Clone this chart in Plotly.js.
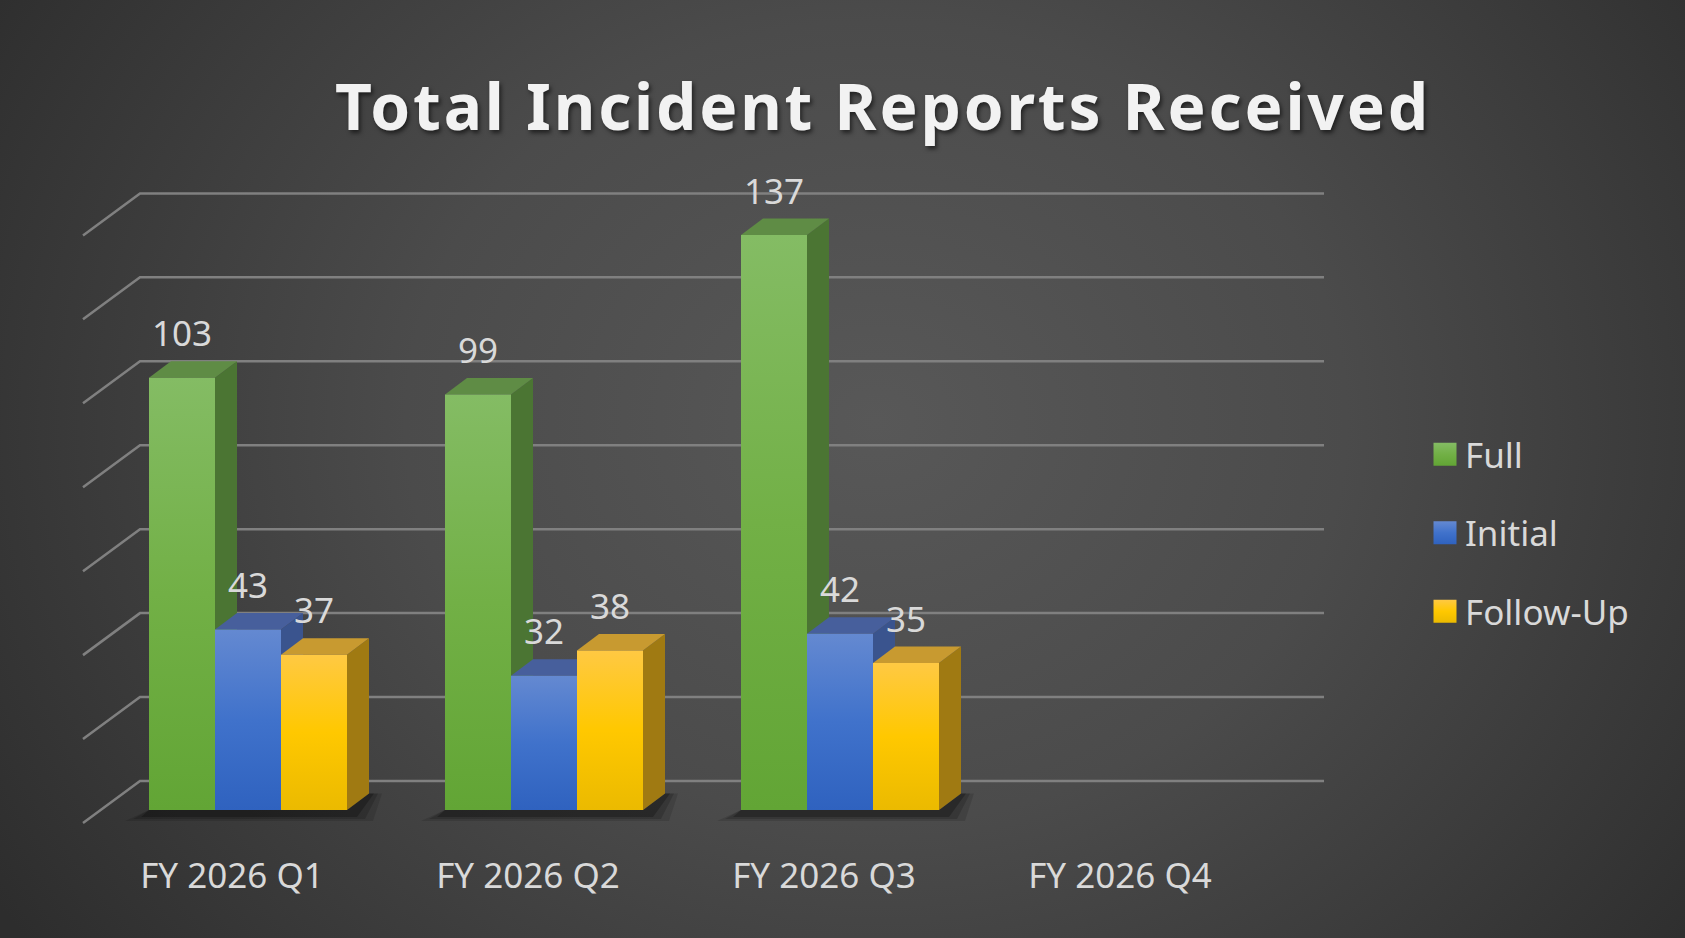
<!DOCTYPE html>
<html>
<head>
<meta charset="utf-8">
<script src="https://cdn.plot.ly/plotly-3.0.1.min.js"></script>
<style>
html, body { margin: 0; padding: 0; }
body {
    width: 1685px; height: 938px; overflow: hidden;
    background: radial-gradient(ellipse 62% 95% at 52% 45%, #585858 0%, #4b4b4b 45%, #2d2d2d 100%);
}
#plot { width: 1685px; height: 938px; }
#defs { position: absolute; width: 0; height: 0; }
.gtitle { letter-spacing: 2.8px; }
/* bigger legend squares, like the reference */
#plot .legend .legendpoints path { d: path('M11.5,11.5H-11.5V-11.5H11.5Z'); }
/* vertical shading of the bar fronts */
#plot .barlayer .trace:nth-child(1) .point path { fill: url(#gFull) !important; }
#plot .barlayer .trace:nth-child(2) .point path { fill: url(#gInitial) !important; }
#plot .barlayer .trace:nth-child(3) .point path { fill: url(#gFollow) !important; }
#plot .legend .groups:nth-child(1) .legendpoints path { fill: url(#gFull) !important; }
#plot .legend .groups:nth-child(2) .legendpoints path { fill: url(#gInitial) !important; }
#plot .legend .groups:nth-child(3) .legendpoints path { fill: url(#gFollow) !important; }
</style>
</head>
<body>
<svg id="defs">
  <defs>
    <linearGradient id="gFull" x1="0" y1="0" x2="0" y2="1">
      <stop offset="0" stop-color="#84bc64"/><stop offset="0.5" stop-color="#72b046"/><stop offset="1" stop-color="#62a535"/>
    </linearGradient>
    <linearGradient id="gInitial" x1="0" y1="0" x2="0" y2="1">
      <stop offset="0" stop-color="#6489d1"/><stop offset="0.5" stop-color="#4072cb"/><stop offset="1" stop-color="#2f62bf"/>
    </linearGradient>
    <linearGradient id="gFollow" x1="0" y1="0" x2="0" y2="1">
      <stop offset="0" stop-color="#ffc943"/><stop offset="0.5" stop-color="#ffc800"/><stop offset="1" stop-color="#ebba00"/>
    </linearGradient>
  </defs>
</svg>
<div id="plot"></div>
<script type="text/javascript">
var categories = ['FY 2026 Q1', 'FY 2026 Q2', 'FY 2026 Q3', 'FY 2026 Q4'];
var seriesNames = ['Full', 'Initial', 'Follow-Up'];
var full = [103, 99, 137, null];
var initial = [43, 32, 42, null];
var followUp = [37, 38, 35, null];
var gridValues = [0, 20, 40, 60, 80, 100, 120, 140];

var series = [full, initial, followUp];
var frontColors = ['#72ae48', '#4472c4', '#fdc010'];
var topColors = ['#5f8c45', '#475f9c', '#c89a30'];
var sideColors = ['#4b7533', '#3a548e', '#a07a12'];
var FONT = '"Noto Sans", "Open Sans", sans-serif';

// page geometry, px
var W = 1685, H = 938;
var M = {l: 70, r: 345, t: 150, b: 108};
var X0_PX = 248, X_UNIT = 296;    // centre of first category, px per category
var Y0_PX = 810, Y_UNIT = 4.197;  // value 0 on the bar front plane, px per unit
var BAR_PX = 66;
var DEPTH = {dx: 22, dy: 16.5};   // bar depth
var BACK = {dx: 40, dy: 29};      // back wall, relative to bar fronts
var FRONT = {dx: -17, dy: -13};   // front edge of the floor

var xMin = -(X0_PX - M.l) / X_UNIT;
var xMax = xMin + (W - M.l - M.r) / X_UNIT;
var yMin = -(H - M.b - Y0_PX) / Y_UNIT;
var yMax = yMin + (H - M.t - M.b) / Y_UNIT;
function dx(px) { return px / X_UNIT; }
function dy(px) { return px / Y_UNIT; }

var barW = BAR_PX / X_UNIT;
var xs = categories.map(function(c, i) { return i; });

function path(pts) {
    return pts.map(function(p, k) { return (k ? 'L' : 'M') + p[0] + ',' + p[1]; }).join('');
}

var shapes = [];

// back wall grid lines with the left wall diagonals
var wallL = -0.5 + dx(BACK.dx), wallR = categories.length - 0.5 + dx(BACK.dx);
gridValues.forEach(function(v) {
    var yb = v + dy(BACK.dy);
    shapes.push({
        type: 'path', layer: 'below', xref: 'x', yref: 'y',
        path: path([[-0.5 + dx(FRONT.dx), v + dy(FRONT.dy)], [wallL, yb], [wallR, yb]]),
        line: {color: '#808080', width: 2.5}, fillcolor: 'rgba(0,0,0,0)'
    });
});

// soft floor shadows under each cluster
var ex = dx(DEPTH.dx), ey = dy(DEPTH.dy);
categories.forEach(function(c, i) {
    var has = series.some(function(s) { return s[i] != null; });
    if (!has) return;
    var L = i - 1.5 * barW, R = i + 1.5 * barW;
    [[24, 26, 11, 0.12], [16, 18, 9, 0.16], [8, 10, 7, 0.24]].forEach(function(s) {
        shapes.push({
            type: 'path', layer: 'below', xref: 'x', yref: 'y',
            path: path([[L - dx(s[0]), -dy(s[2])], [R + dx(s[1]), -dy(s[2])],
                        [R + ex + dx(s[1] * 0.5), ey], [R + ex, ey], [R, 0], [L, 0]]) + 'Z',
            fillcolor: 'rgba(0,0,0,' + s[3] + ')', line: {width: 0}
        });
    });
});

// top and side faces of every bar, and the value labels
var annotations = [];
series.forEach(function(vals, j) {
    vals.forEach(function(v, i) {
        if (v == null) return;
        var cx = i + (j - 1) * barW;
        var xl = cx - barW / 2, xr = cx + barW / 2;
        shapes.push({
            type: 'path', layer: 'below', xref: 'x', yref: 'y',
            path: path([[xr, 0], [xr, v], [xr + ex, v + ey], [xr + ex, ey]]) + 'Z',
            fillcolor: sideColors[j], line: {width: 0}
        });
        shapes.push({
            type: 'path', layer: 'below', xref: 'x', yref: 'y',
            path: path([[xl, v], [xr, v], [xr + ex, v + ey], [xl + ex, v + ey]]) + 'Z',
            fillcolor: topColors[j], line: {width: 0}
        });
        annotations.push({
            x: cx, y: v, xref: 'x', yref: 'y', yshift: 45, yanchor: 'middle',
            text: String(v), showarrow: false,
            font: {family: FONT, size: 35, color: '#d9d9d9'}
        });
    });
});

var traces = series.map(function(vals, j) {
    return {
        type: 'bar', name: seriesNames[j], x: xs, y: vals,
        legendgroup: 'g' + j,
        marker: {color: frontColors[j], line: {width: 0}},
        hoverinfo: 'skip'
    };
});

var layout = {
    width: W, height: H,
    margin: {l: M.l, r: M.r, t: M.t, b: M.b, pad: 0},
    paper_bgcolor: 'rgba(0,0,0,0)', plot_bgcolor: 'rgba(0,0,0,0)',
    barmode: 'group', bargap: 1 - 3 * barW, bargroupgap: 0,
    title: {
        text: 'Total Incident Reports Received',
        font: {family: FONT, size: 64, weight: 700, color: '#f2f2f2', shadow: '2px 3px 4px rgba(0,0,0,0.55)'},
        xref: 'container', x: 883 / W, xanchor: 'center',
        yref: 'container', y: 1 - 108 / H, yanchor: 'middle'
    },
    xaxis: {
        range: [xMin, xMax], tickvals: xs, ticktext: categories,
        showgrid: false, zeroline: false, showline: false, ticks: '',
        tickfont: {family: FONT, size: 35, color: '#d9d9d9'},
        ticklabelshift: -16, ticklabelstandoff: 22
    },
    yaxis: {
        range: [yMin, yMax], showgrid: false, zeroline: false,
        showticklabels: false, ticks: '', showline: false
    },
    legend: {
        xref: 'container', x: 1425 / W, xanchor: 'left',
        yref: 'container', y: 1 - 533 / H, yanchor: 'middle',
        font: {family: FONT, size: 35, color: '#d9d9d9'},
        bgcolor: 'rgba(0,0,0,0)', traceorder: 'grouped', tracegroupgap: 30
    },
    shapes: shapes,
    annotations: annotations
};

Plotly.newPlot('plot', traces, layout, {staticPlot: true});
</script>
</body>
</html>
